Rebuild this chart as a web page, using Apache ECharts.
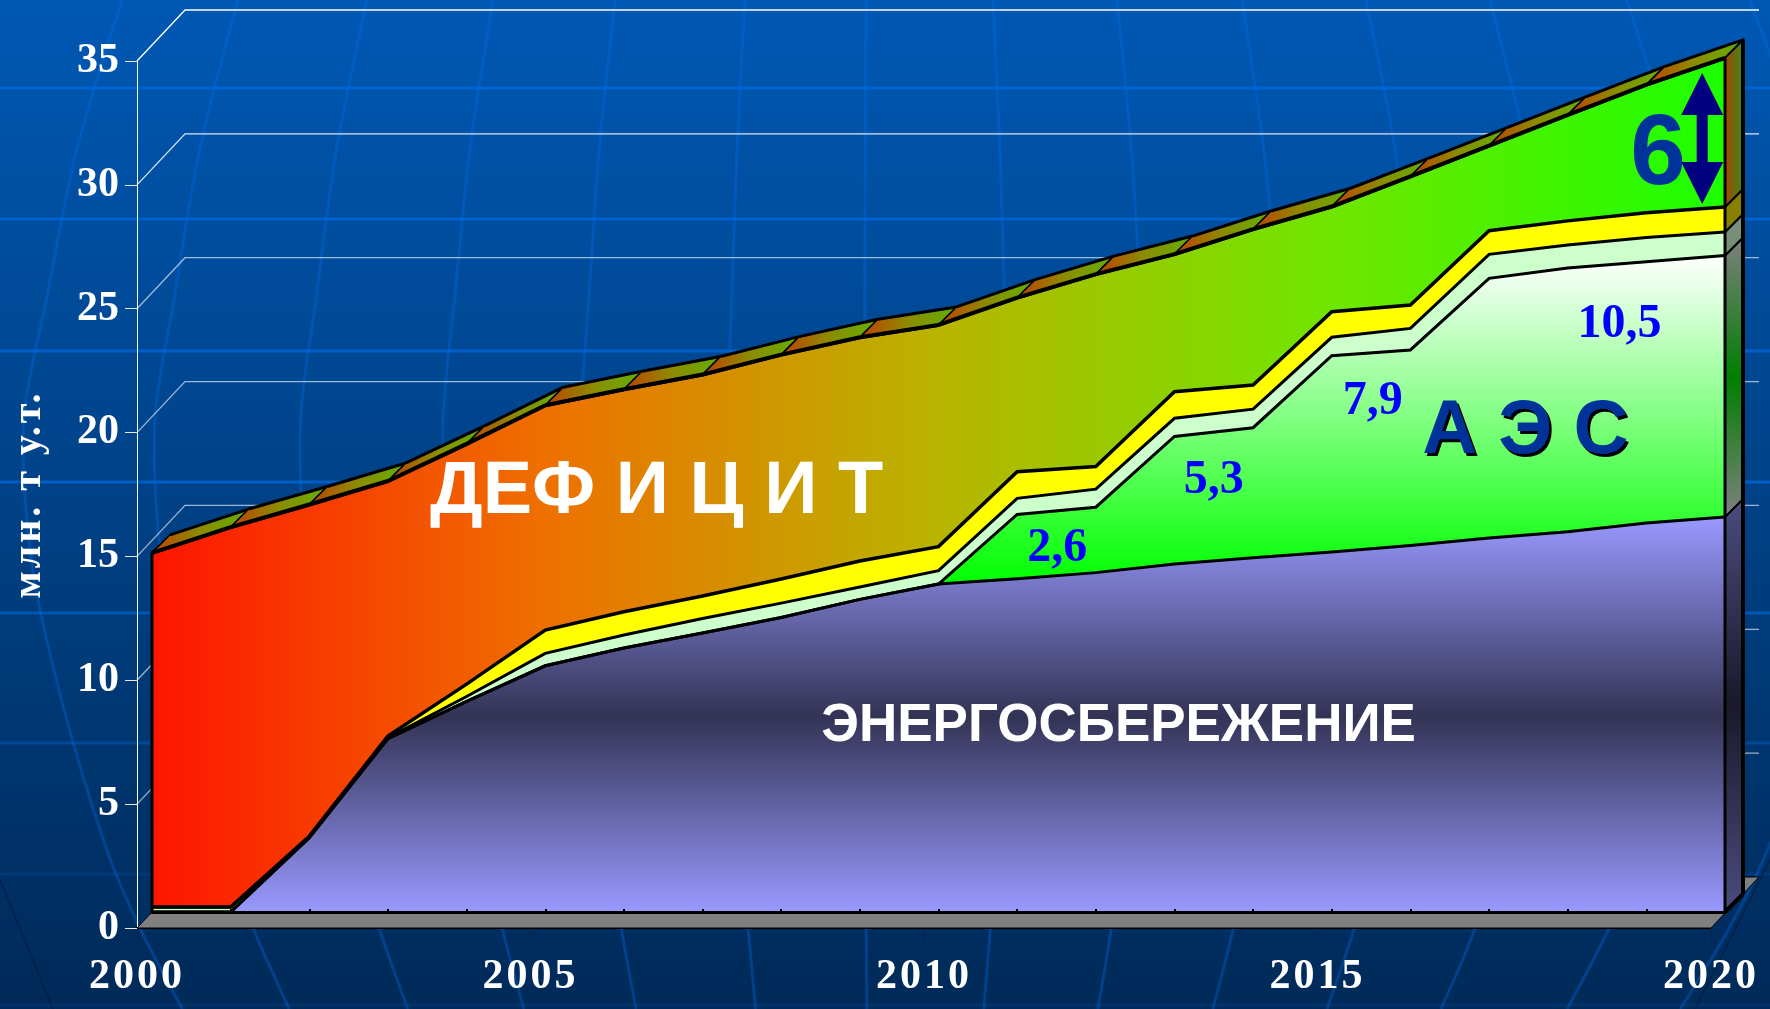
<!DOCTYPE html>
<html><head><meta charset="utf-8">
<style>html,body{margin:0;padding:0;background:#003f80}#c{width:1770px;height:1009px}</style>
<script src="https://cdn.jsdelivr.net/npm/echarts@6/dist/echarts.min.js"></script>
</head><body><div id="c"></div>
<script>
const years = ['2000','2001','2002','2003','2004','2005','2006','2007','2008','2009','2010','2011','2012','2013','2014','2015','2016','2017','2018','2019','2020'];
const energySaving = [0,0,3.0,7.0,8.5,9.94,10.66,11.26,11.89,12.62,13.24,13.45,13.7,14.05,14.3,14.53,14.8,15.1,15.35,15.7,15.95];
const nuclear = [0,0,0,0,0,0,0,0,0,0,0,2.6,2.64,5.15,5.25,7.93,7.89,10.48,10.65,10.55,10.55];
const paleBand = [.2,.2,.03,.04,.2,.5,.52,.59,.58,.5,.54,.65,.73,.73,.75,.74,.87,.97,.93,.98,.95];
const yellowBand = [0,0,.03,.06,.5,.94,.94,.91,.97,1.05,.97,1.07,.91,1.07,.97,1.03,.94,.95,.97,1.0,1.01];
const deficit = [14.3,15.34,13.39,10.3,9.7,9.08,8.98,8.94,9.06,9.03,8.95,7.03,7.77,5.56,6.3,4.25,5.2,3.44,4.28,5.17,6.02];
const yTicks = [5,10,15,20,25,30,35];
const labelsSans = [
  ['ДЕФ И Ц И Т', 6.415, 16.03, 74, '#ffffff'],
  ['ЭНЕРГОСБЕРЕЖЕНИЕ', 12.29, 6.86, 53, '#ffffff'],
  ['А Э С', 17.46, 18.45, 76, '#003399'],
  ['6', 19.15, 29.31, 100, '#003399']
];
const labelsSerif = [
  ['2,6', 11.51, 14.21],
  ['5,3', 13.5, 16.96],
  ['7,9', 15.52, 20.15],
  ['10,5', 18.66, 23.25]
];
const deficitArrow = [19.71, 28.58, 33.87];

// letter spacing of the axis captions (the canvas supports it, ECharts does not expose it)
(function(){
  const P = CanvasRenderingContext2D.prototype, orig = P.fillText;
  P.fillText = function(t,x,y,m){
    const sp = /^20\d\d$/.test(t) ? '3px' : (t==='млн. т у.т.' ? '3px' : null);
    if(sp){ this.letterSpacing = sp; }
    const r = m===undefined ? orig.call(this,t,x,y) : orig.call(this,t,x,y,m);
    if(sp){ this.letterSpacing = '0px'; }
    return r;
  };
})();

const chart = echarts.init(document.getElementById('c'), null, {renderer:'canvas'});
const G = echarts.graphic;
const BAND = [18,-18];      // depth of the solid
const BACK = [48,-51];      // depth of the wall
const tops = [];
{
  let run = years.map(()=>0);
  [energySaving,nuclear,paleBand,yellowBand,deficit].forEach(a=>{
    run = run.map((v,i)=>v+a[i]); tops.push(run);
  });
}
const total = tops[4];
const last = years.length-1;
const off = (p,d)=>[p[0]+d[0],p[1]+d[1]];
const lg = (x,y,stops)=>new G.LinearGradient(0,0,x,y,stops.map((c,i)=>({offset:i/(stops.length-1),color:c})));
// a point at a fractional year position on the category axis
const at = (api,x,y)=>{
  const i=Math.min(Math.floor(x),last-1), p=api.coord([i,y]), q=api.coord([i+1,y]);
  return [p[0]+(q[0]-p[0])*(x-i),p[1]];
};

// Background decoration
const bg = [];
[[88,.6],[219,.6],[351,.6],[482,.6],[613,.5],[743,.3],[874,.15],[1005,.15]].forEach(([y,a])=>{
  bg.push({type:'line',silent:true,shape:{x1:0,y1:y,x2:1770,y2:y},style:{stroke:'rgba(0,112,235,'+a+')',lineWidth:3}});
});
const ry=[0,150,300,420,560,700,850,930,1009], rr=[1,1.06,1.1,1.13,1.12,1.08,1.02,.975,.92];
[-756,-640,-511,-385,-263,-133,-12,115,239,364,488,612,749,872].forEach(k=>{
  bg.push({type:'polyline',silent:true,shape:{smooth:.3,points:ry.map((y,i)=>[878+k*rr[i],y])},
    style:{stroke:'rgba(0,112,235,.32)',lineWidth:3,fill:null}});
});
bg.push({type:'line',silent:true,shape:{x1:0,y1:880,x2:53,y2:1009},style:{stroke:'rgba(0,25,60,.45)',lineWidth:2}});
bg.push({type:'line',silent:true,shape:{x1:1770,y1:860,x2:1695,y2:1009},style:{stroke:'rgba(0,25,60,.45)',lineWidth:2}});

const areaSeries = (name,data,fill,lw)=>({
  name,type:'line',stack:'all',xAxisIndex:1,yAxisIndex:1,data,z:3,
  showSymbol:false,symbol:'none',smooth:false,silent:true,
  lineStyle:{color:'#000',width:lw,join:'miter'},areaStyle:{color:fill,opacity:1}
});

const option = {
  animation:false,
  backgroundColor:new G.LinearGradient(0,0,0,1,[{offset:0,color:'#0058b4'},{offset:1,color:'#002a58'}]),
  graphic:{elements:bg},
  grid:[
    {left:137,top:61,width:1574,height:867,containLabel:false,outerBoundsMode:'none'},
    {left:152,top:45,width:1573,height:867,containLabel:false,outerBoundsMode:'none'}
  ],
  xAxis:[
    {type:'category',gridIndex:0,data:years,boundaryGap:false,
     axisLine:{show:true,lineStyle:{color:'#000',width:2}},
     axisTick:{show:true,interval:4,length:12,lineStyle:{color:'#10203a',width:1}},
     axisLabel:{interval:4,margin:28,color:'#fff',fontFamily:'Liberation Serif',fontWeight:'bold',fontSize:42},
     splitLine:{show:false}},
    {type:'category',gridIndex:1,data:years,boundaryGap:false,z:5,
     axisLine:{show:true,lineStyle:{color:'#000',width:3}},
     axisTick:{show:true,inside:true,interval:0,length:3,lineStyle:{color:'#000',width:2}},
     axisLabel:{show:false},splitLine:{show:false}}
  ],
  yAxis:[
    {type:'value',gridIndex:0,min:0,max:35,interval:5,
     name:'млн. т у.т.',nameLocation:'middle',nameRotate:90,nameGap:87,
     nameTextStyle:{color:'#fff',fontFamily:'Liberation Serif',fontWeight:'bold',fontSize:40},
     axisLine:{show:true,lineStyle:{color:'#fff',width:1}},
     axisTick:{show:true,length:12,lineStyle:{color:'#e8e8e8',width:1}},
     axisLabel:{margin:18,padding:[12,0,0,0],color:'#fff',fontFamily:'Liberation Serif',fontWeight:'bold',fontSize:42},
     splitLine:{show:false}},
    {type:'value',gridIndex:1,min:0,max:35,interval:5,show:false,splitLine:{show:false}}
  ],
  series:[
    // back wall grid lines
    {type:'custom',xAxisIndex:0,yAxisIndex:0,z:1,silent:true,data:yTicks.map(v=>[0,v]),
     renderItem(p,api){
       const v=api.value(1), a=api.coord([0,v]), b=api.coord([last,v]);
       const alpha = v>=35?1:(v>=30?.85:.62);
       return {type:'polyline',shape:{points:[a,off(a,BACK),off(b,BACK)]},
         style:{stroke:'rgba(255,255,255,'+alpha+')',lineWidth:1.3,fill:null}};
     }},
    // floor
    {type:'custom',xAxisIndex:0,yAxisIndex:0,z:2,silent:true,data:[[0,0]],
     renderItem(p,api){
       const a=api.coord([0,0]), b=api.coord([last,0]);
       return {type:'polygon',shape:{points:[a,b,off(b,BACK),off(a,BACK)]},
         style:{fill:'#808080',stroke:'#000',lineWidth:1}};
     }},
    areaSeries('Энергосбережение',energySaving,new G.LinearGradient(0,0,0,1,[{offset:0,color:'#9999ff'},{offset:.505,color:'#333355'},{offset:1,color:'#9999ff'}]),3),
    areaSeries('АЭС',nuclear,new G.LinearGradient(0,0,0,1,[{offset:0,color:'#ffffff'},{offset:.5,color:'#00ff00'},{offset:1,color:'#00ff00'}]),3),
    areaSeries('Резерв',paleBand,'#ccffcc',3),
    areaSeries('Прирост',yellowBand,'#ffff00',3.5),
    areaSeries('Дефицит',deficit,new G.LinearGradient(0,0,1,0,[
      {offset:0,color:'#ff1500'},{offset:.25,color:'#ee7000'},{offset:.5,color:'#b9b400'},{offset:.75,color:'#6fe600'},{offset:1,color:'#1cff00'}]),4),
    // top facets
    {type:'custom',xAxisIndex:1,yAxisIndex:1,z:4,silent:true,
     data:years.slice(0,-1).map((y,i)=>[i,total[i],total[i+1]]),
     renderItem(p,api){
       const i=api.value(0), a=api.coord([i,api.value(1)]), b=api.coord([i+1,api.value(2)]);
       return {type:'group',children:[
         {type:'polygon',shape:{points:[a,b,off(b,BAND),off(a,BAND)]},
          style:{fill:lg(1,0,['#c04000','#8c8c00','#60b000']),stroke:'#000',lineWidth:1.5}},
         {type:'polyline',shape:{points:[off(a,BAND),off(b,BAND)]},style:{stroke:'#000',lineWidth:3,fill:null}},
         {type:'polyline',shape:{points:[a,b]},style:{stroke:'#000',lineWidth:4,fill:null}}
       ]};
     }},
    // right wall
    {type:'custom',xAxisIndex:1,yAxisIndex:1,z:4,silent:true,
     data:[0,1,2,3,4].map(k=>[last,k,k?tops[k-1][last]:0,tops[k][last]]),
     renderItem(p,api){
       const k=api.value(1), a=api.coord([last,api.value(2)]), b=api.coord([last,api.value(3)]);
       const fills=[
         new G.LinearGradient(0,0,0,1,[{offset:0,color:'#4c4c80'},{offset:.5,color:'#19192a'},{offset:1,color:'#4c4c80'}]),
         new G.LinearGradient(0,0,0,1,[{offset:0,color:'#808080'},{offset:.5,color:'#007f00'},{offset:1,color:'#808080'}]),
         new G.LinearGradient(0,0,0,1,[{offset:0,color:'#7f8f7f'},{offset:1,color:'#6f9070'}]),
         '#8a8000',
         lg(1,0,['#a84400','#3a8a1a'])
       ];
       return {type:'polygon',shape:{points:[a,b,off(b,BAND),off(a,BAND)]},
         style:{fill:fills[k],stroke:'#000',lineWidth:2}};
     }},
    // vertical edges
    {type:'custom',xAxisIndex:1,yAxisIndex:1,z:5,silent:true,
     data:[[0,total[0]],[last,total[last]]],
     renderItem(p,api){
       const i=api.value(0), a=api.coord([i,0]), b=api.coord([i,api.value(1)]);
       const els=[{type:'line',shape:{x1:a[0],y1:a[1],x2:b[0],y2:b[1]},style:{stroke:'#000',lineWidth:3}}];
       if(i===last){
         const c=off(a,BAND), d=off(b,BAND);
         els.push({type:'line',shape:{x1:c[0],y1:c[1],x2:d[0],y2:d[1]},style:{stroke:'#000',lineWidth:4}});
         els.push({type:'line',shape:{x1:a[0],y1:a[1],x2:c[0],y2:c[1]},style:{stroke:'#000',lineWidth:4}});
       }
       return {type:'group',children:els};
     }},
    // double arrow
    {type:'custom',xAxisIndex:1,yAxisIndex:1,z:6,silent:true,data:[[0,deficitArrow[1],deficitArrow[2]]],
     renderItem(p,api){
       const lo=at(api,deficitArrow[0],api.value(1)), hi=at(api,deficitArrow[0],api.value(2));
       const cx=lo[0], hw=21, sw=5.5, hh=42;
       return {type:'polygon',shape:{points:[
         [cx,hi[1]],[cx+hw,hi[1]+hh],[cx+sw,hi[1]+hh],[cx+sw,lo[1]-hh],[cx+hw,lo[1]-hh],
         [cx,lo[1]],[cx-hw,lo[1]-hh],[cx-sw,lo[1]-hh],[cx-sw,hi[1]+hh],[cx-hw,hi[1]+hh]]},
         style:{fill:'#000080'}};
     }},
    // labels in the chart
    {type:'custom',xAxisIndex:1,yAxisIndex:1,z:7,silent:true,data:labelsSans.map((l,i)=>[i,l[2]]),
     renderItem(p,api){
       const l=labelsSans[api.value(0)], c=at(api,l[1],api.value(1));
       const s=l[3];
       const st={text:l[0],x:c[0],y:c[1]-.8*s,fill:l[4],font:'bold '+s+'px "Liberation Sans"',textAlign:'center',textBaseline:'middle'};
       if(l[0]==='А Э С'){st.textShadowColor='#000';st.textShadowOffsetX=2.5;st.textShadowOffsetY=2.5;st.textShadowBlur=.01;}
       return {type:'text',style:st};
     }},
    {type:'custom',xAxisIndex:1,yAxisIndex:1,z:7,silent:true,data:labelsSerif.map((l,i)=>[i,l[2]]),
     renderItem(p,api){
       const l=labelsSerif[api.value(0)], c=at(api,l[1],api.value(1));
       return {type:'text',style:{text:l[0],x:c[0],y:c[1]-.74*48,fill:'#0000ff',font:'bold 48px "Liberation Serif"',textAlign:'center',textBaseline:'middle'}};
     }}
  ]
};
chart.setOption(option);
</script>
</body></html>
